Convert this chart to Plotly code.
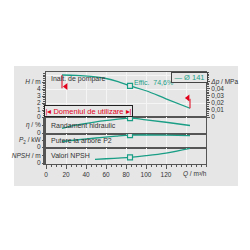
import plotly.graph_objects as go
from plotly.subplots import make_subplots

# ---- data ----
q_h = [16, 30, 45, 60, 72, 84, 100, 120, 144]
h_m = [6.0, 5.95, 5.8, 5.5, 5.05, 4.45, 3.75, 2.6, 1.25]
q_eta = [16, 30, 50, 70, 84, 100, 120, 144]
eta = [24, 40, 56, 68, 74.6, 66, 54, 38]
q_p = [16, 30, 50, 70, 84, 100, 120, 144]
p2 = [0.55, 0.7, 0.9, 1.08, 1.18, 1.2, 1.18, 1.14]
q_npsh = [49, 60, 72, 84, 100, 120, 144]
npsh = [2.0, 2.3, 2.65, 3.05, 3.9, 5.3, 7.8]
q_op = [84]
h_op = [4.45]
eta_op = [74.6]
p_op = [1.18]
npsh_op = [3.05]
limit_left_q = [16, 16]
limit_left_h = [6.0, 4.1]
limit_right_q = [144, 144]
limit_right_h = [1.25, 2.6]
flag_q = [19.9, 141.9]
flag_h = [4.36, 2.71]
x_grid = [0, 20, 40, 60, 80, 100, 120, 140]
x_ticks = [0, 20, 40, 60, 80, 100, 120]
x_labels = ["0", "20", "40", "60", "80", "100", "120"]
h_ticks = [0, 1, 2, 3, 4, 5]
h_labels = ["0", "1", "2", "3", "4", "<i>H</i> / m"]
dp_ticks = [0, 0.01, 0.02, 0.03, 0.04, 0.05]
dp_labels = ["0", "0,01", "0,02", "0,03", "0,04", "<i>Δp</i> / MPa"]

TEAL = "#1a9e86"
RED = "#e2001a"
GREY = "#e6e6e6"
GRID = "#f5f5f5"
LINE = "#555555"
TXT = "#333333"
FONT = "Liberation Sans"
H_MAX = 6.43
M_TO_MPA = 0.00981

fig = make_subplots(rows=4, cols=1, shared_xaxes=True, vertical_spacing=0,
                    row_heights=[45, 17, 14, 16])

def curve(x, y, row):
    fig.add_trace(go.Scatter(x=x, y=y, mode="lines", line=dict(color=TEAL, width=1.3),
                             line_shape="spline", hoverinfo="skip", showlegend=False), row=row, col=1)

def op(x, y, row):
    fig.add_trace(go.Scatter(x=x, y=y, mode="markers",
                             marker=dict(symbol="square", size=5, color=GREY,
                                         line=dict(color=TEAL, width=1.2)),
                             hoverinfo="skip", showlegend=False), row=row, col=1)

curve(q_h, h_m, 1)
curve(q_eta, eta, 2)
curve(q_p, p2, 3)
curve(q_npsh, npsh, 4)

for xs, ys in [(limit_left_q, limit_left_h), (limit_right_q, limit_right_h)]:
    fig.add_trace(go.Scatter(x=xs, y=ys, mode="lines", line=dict(color=RED, width=1),
                             hoverinfo="skip", showlegend=False), row=1, col=1)
fig.add_trace(go.Scatter(x=flag_q, y=flag_h, mode="markers",
                         marker=dict(symbol="triangle-left", size=6, color=RED),
                         hoverinfo="skip", showlegend=False), row=1, col=1)

op(q_op, h_op, 1)
op(q_op, eta_op, 2)
op(q_op, p_op, 3)
op(q_op, npsh_op, 4)

# right axis (Δp), H grid overlay, bottom grid overlay
fig.add_trace(go.Scatter(x=q_h, y=[v * M_TO_MPA for v in h_m], yaxis="y5", xaxis="x",
                         mode="lines", line=dict(width=0, color="rgba(0,0,0,0)"),
                         hoverinfo="skip", showlegend=False))
fig.add_trace(go.Scatter(x=q_h, y=h_m, yaxis="y6", xaxis="x",
                         mode="lines", line=dict(width=0, color="rgba(0,0,0,0)"),
                         hoverinfo="skip", showlegend=False))
fig.add_trace(go.Scatter(x=q_npsh, y=npsh, yaxis="y4", xaxis="x5",
                         mode="lines", line=dict(width=0, color="rgba(0,0,0,0)"),
                         hoverinfo="skip", showlegend=False))

tickfont = dict(family=FONT, size=6.5, color=TXT)
frame = dict(showline=True, mirror=True, linecolor=LINE, linewidth=1, zeroline=False)

for i in range(1, 5):
    name = "xaxis" if i == 1 else f"xaxis{i}"
    cfg = dict(range=[0, 160], tickmode="array", showgrid=True,
               gridcolor=GRID, gridwidth=1, **frame)
    if i == 4:
        cfg.update(tickvals=x_ticks, ticktext=x_labels, ticks="outside", ticklen=4,
                   tickcolor=LINE, tickfont=tickfont, showticklabels=True,
                   minor=dict(tickmode="linear", tick0=0, dtick=5, ticks="outside",
                              ticklen=2, tickcolor=LINE))
    else:
        cfg.update(tickvals=x_grid, ticks="", showticklabels=False)
    fig.layout[name].update(cfg)

fig.update_layout(xaxis5=dict(overlaying="x4", anchor="y4", range=[0, 160], tickmode="array",
                              tickvals=[140], showticklabels=False, ticks="", showgrid=True,
                              gridcolor=GRID, gridwidth=1, zeroline=False, showline=False))

ycommon = dict(tickmode="array", ticks="outside", ticklen=3, tickcolor=LINE,
               tickfont=tickfont, showgrid=False, **frame)
fig.layout.yaxis.update(range=[0, H_MAX], tickvals=h_ticks, ticktext=h_labels,
                        minor=dict(tickmode="linear", tick0=0, dtick=0.25, ticks="outside",
                                   ticklen=2, tickcolor=LINE), **ycommon)
fig.layout.yaxis2.update(range=[-4, 80], tickvals=[0, 40], ticktext=["0", "<i>η</i> / %"],
                         minor=dict(tickmode="linear", tick0=0, dtick=5, ticks="outside",
                                    ticklen=2, tickcolor=LINE), **ycommon)
fig.layout.yaxis3.update(range=[-0.1, 1.3], tickvals=[0, 0.7],
                         ticktext=["0", "<i>P</i><sub>2</sub> / kW"],
                         minor=dict(tickmode="linear", tick0=0, dtick=0.1, ticks="outside",
                                    ticklen=2, tickcolor=LINE), **ycommon)
fig.layout.yaxis4.update(range=[-0.5, 8], tickvals=[0, 4], ticktext=["0", "<i>NPSH</i> / m"],
                         minor=dict(tickmode="linear", tick0=0, dtick=0.5, ticks="outside",
                                    ticklen=2, tickcolor=LINE), **ycommon)

fig.update_layout(
    yaxis5=dict(overlaying="y", anchor="x", side="right", range=[0, H_MAX * M_TO_MPA],
                tickmode="array", tickvals=dp_ticks, ticktext=dp_labels,
                ticks="outside", ticklen=3, tickcolor=LINE, tickfont=tickfont,
                showgrid=False, zeroline=False, showline=True, linecolor=LINE,
                minor=dict(tickmode="linear", tick0=0, dtick=0.0025, ticks="outside",
                           ticklen=2, tickcolor=LINE)),
    yaxis6=dict(overlaying="y", anchor="x", side="left", range=[0, H_MAX],
                tickmode="array", tickvals=[2, 4, 6], showticklabels=False, ticks="",
                showgrid=True, gridcolor=GRID, gridwidth=1, zeroline=False, showline=False),
)

fig.add_shape(type="rect", xref="paper", yref="paper", x0=-0.2, x1=1.2,
              y0=(164 - 186) / 92, y1=(164 - 66) / 92, fillcolor=GREY,
              line=dict(width=0), layer="below")

lab = dict(family=FONT, size=7, color=TXT)
ann = [
    dict(x=0.017, xref="paper", y=5.5, yref="y", text="Inalt. de pompare", xanchor="left",
         yanchor="middle", showarrow=False, font=lab),
    dict(x=0.017, xref="paper", y=40, yref="y2", text="Randament hidraulic", xanchor="left",
         yanchor="middle", showarrow=False, font=lab),
    dict(x=0.017, xref="paper", y=0.7, yref="y3", text="Putere la arbore P2", xanchor="left",
         yanchor="middle", showarrow=False, font=lab),
    dict(x=0.017, xref="paper", y=4, yref="y4", text="Valori NPSH", xanchor="left",
         yanchor="middle", showarrow=False, font=lab),
    dict(x=86, xref="x", y=4.95, yref="y", text="Effic.  74,6%", xanchor="left",
         yanchor="middle", showarrow=False, font=dict(family=FONT, size=7, color=TEAL)),
    dict(x=42.9, xref="x", y=0.86, yref="y", text="|◂ Domeniul de utilizare ▸|",
         xanchor="center", yanchor="middle", showarrow=False, width=86, height=9,
         borderpad=0.5, bordercolor="#222", borderwidth=1, bgcolor=GREY,
         font=dict(family=FONT, size=7.5, color=RED)),
    dict(x=143.2, xref="x", y=5.64, yref="y", text="— Ø 141", xanchor="center",
         yanchor="middle", showarrow=False, width=34, height=8, borderpad=0.5,
         bordercolor="#444", borderwidth=1, bgcolor=GREY,
         font=dict(family=FONT, size=7.5, color=TEAL)),
    dict(x=(203 - 35) / 181, xref="paper", y=(164 - 174) / 92, yref="paper",
         text="<i>Q</i> / m³/h", xanchor="center", yanchor="middle", showarrow=False,
         font=tickfont),
]
fig.update_layout(annotations=ann)

fig.update_layout(width=250, height=250, margin=dict(l=35, r=34, t=72, b=86),
                  paper_bgcolor="white", plot_bgcolor=GREY, showlegend=False)

fig.write_html("out.html", config={"displayModeBar": False})
